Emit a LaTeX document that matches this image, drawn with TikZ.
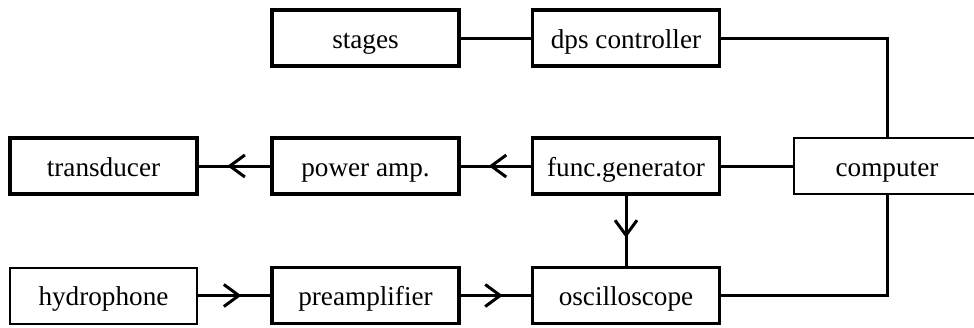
\documentclass[tikz,border=0pt]{standalone}
\usepackage{fontspec}
\setmainfont{Liberation Serif}
\usetikzlibrary{arrows.meta,decorations.markings}
\begin{document}
\begin{tikzpicture}[x=0.5pt,y=-0.5pt,
  blk/.style={draw,line width=1.7pt,rectangle,minimum width=93.5pt,minimum height=28pt,inner sep=0pt,text height=12pt,text depth=2pt,font=\fontsize{13.6}{16}\selectfont},
  thinblk/.style={blk,line width=1pt},
  conn/.style={line width=1.5pt},
  midarr/.style={conn,postaction={decorate},decoration={markings,mark=at position 0.6 with {\arrow[line width=1.5pt]{Straight Barb[length=7.5pt,width=11pt]}}}}]
\useasboundingbox (0,0) rectangle (974,327);
\node[blk] (stages) at (365.5,38) {stages};
\node[blk] (dps) at (626,38) {dps controller};
\node[blk] (trans) at (103.5,166) {transducer};
\node[blk] (pamp) at (365.5,166) {power amp.};
\node[blk] (func) at (626,166) {func.generator};
\node[thinblk] (comp) at (887,166) {computer};
\node[thinblk] (hydro) at (103.5,295.5) {hydrophone};
\node[blk] (pre) at (365.5,295.5) {preamplifier};
\node[blk] (osc) at (626,295.5) {oscilloscope};
\draw[conn] (stages) -- (dps);
\draw[conn] (dps.east) -| (comp.north);
\draw[conn] (func) -- (comp);
\draw[conn] (osc.east) -| (comp.south);
\draw[midarr] (pamp.west) -- (trans.east);
\draw[midarr] (func.west) -- (pamp.east);
\draw[midarr] (func.south) -- (osc.north);
\draw[midarr] (hydro.east) -- (pre.west);
\draw[midarr] (pre.east) -- (osc.west);
\end{tikzpicture}
\end{document}
